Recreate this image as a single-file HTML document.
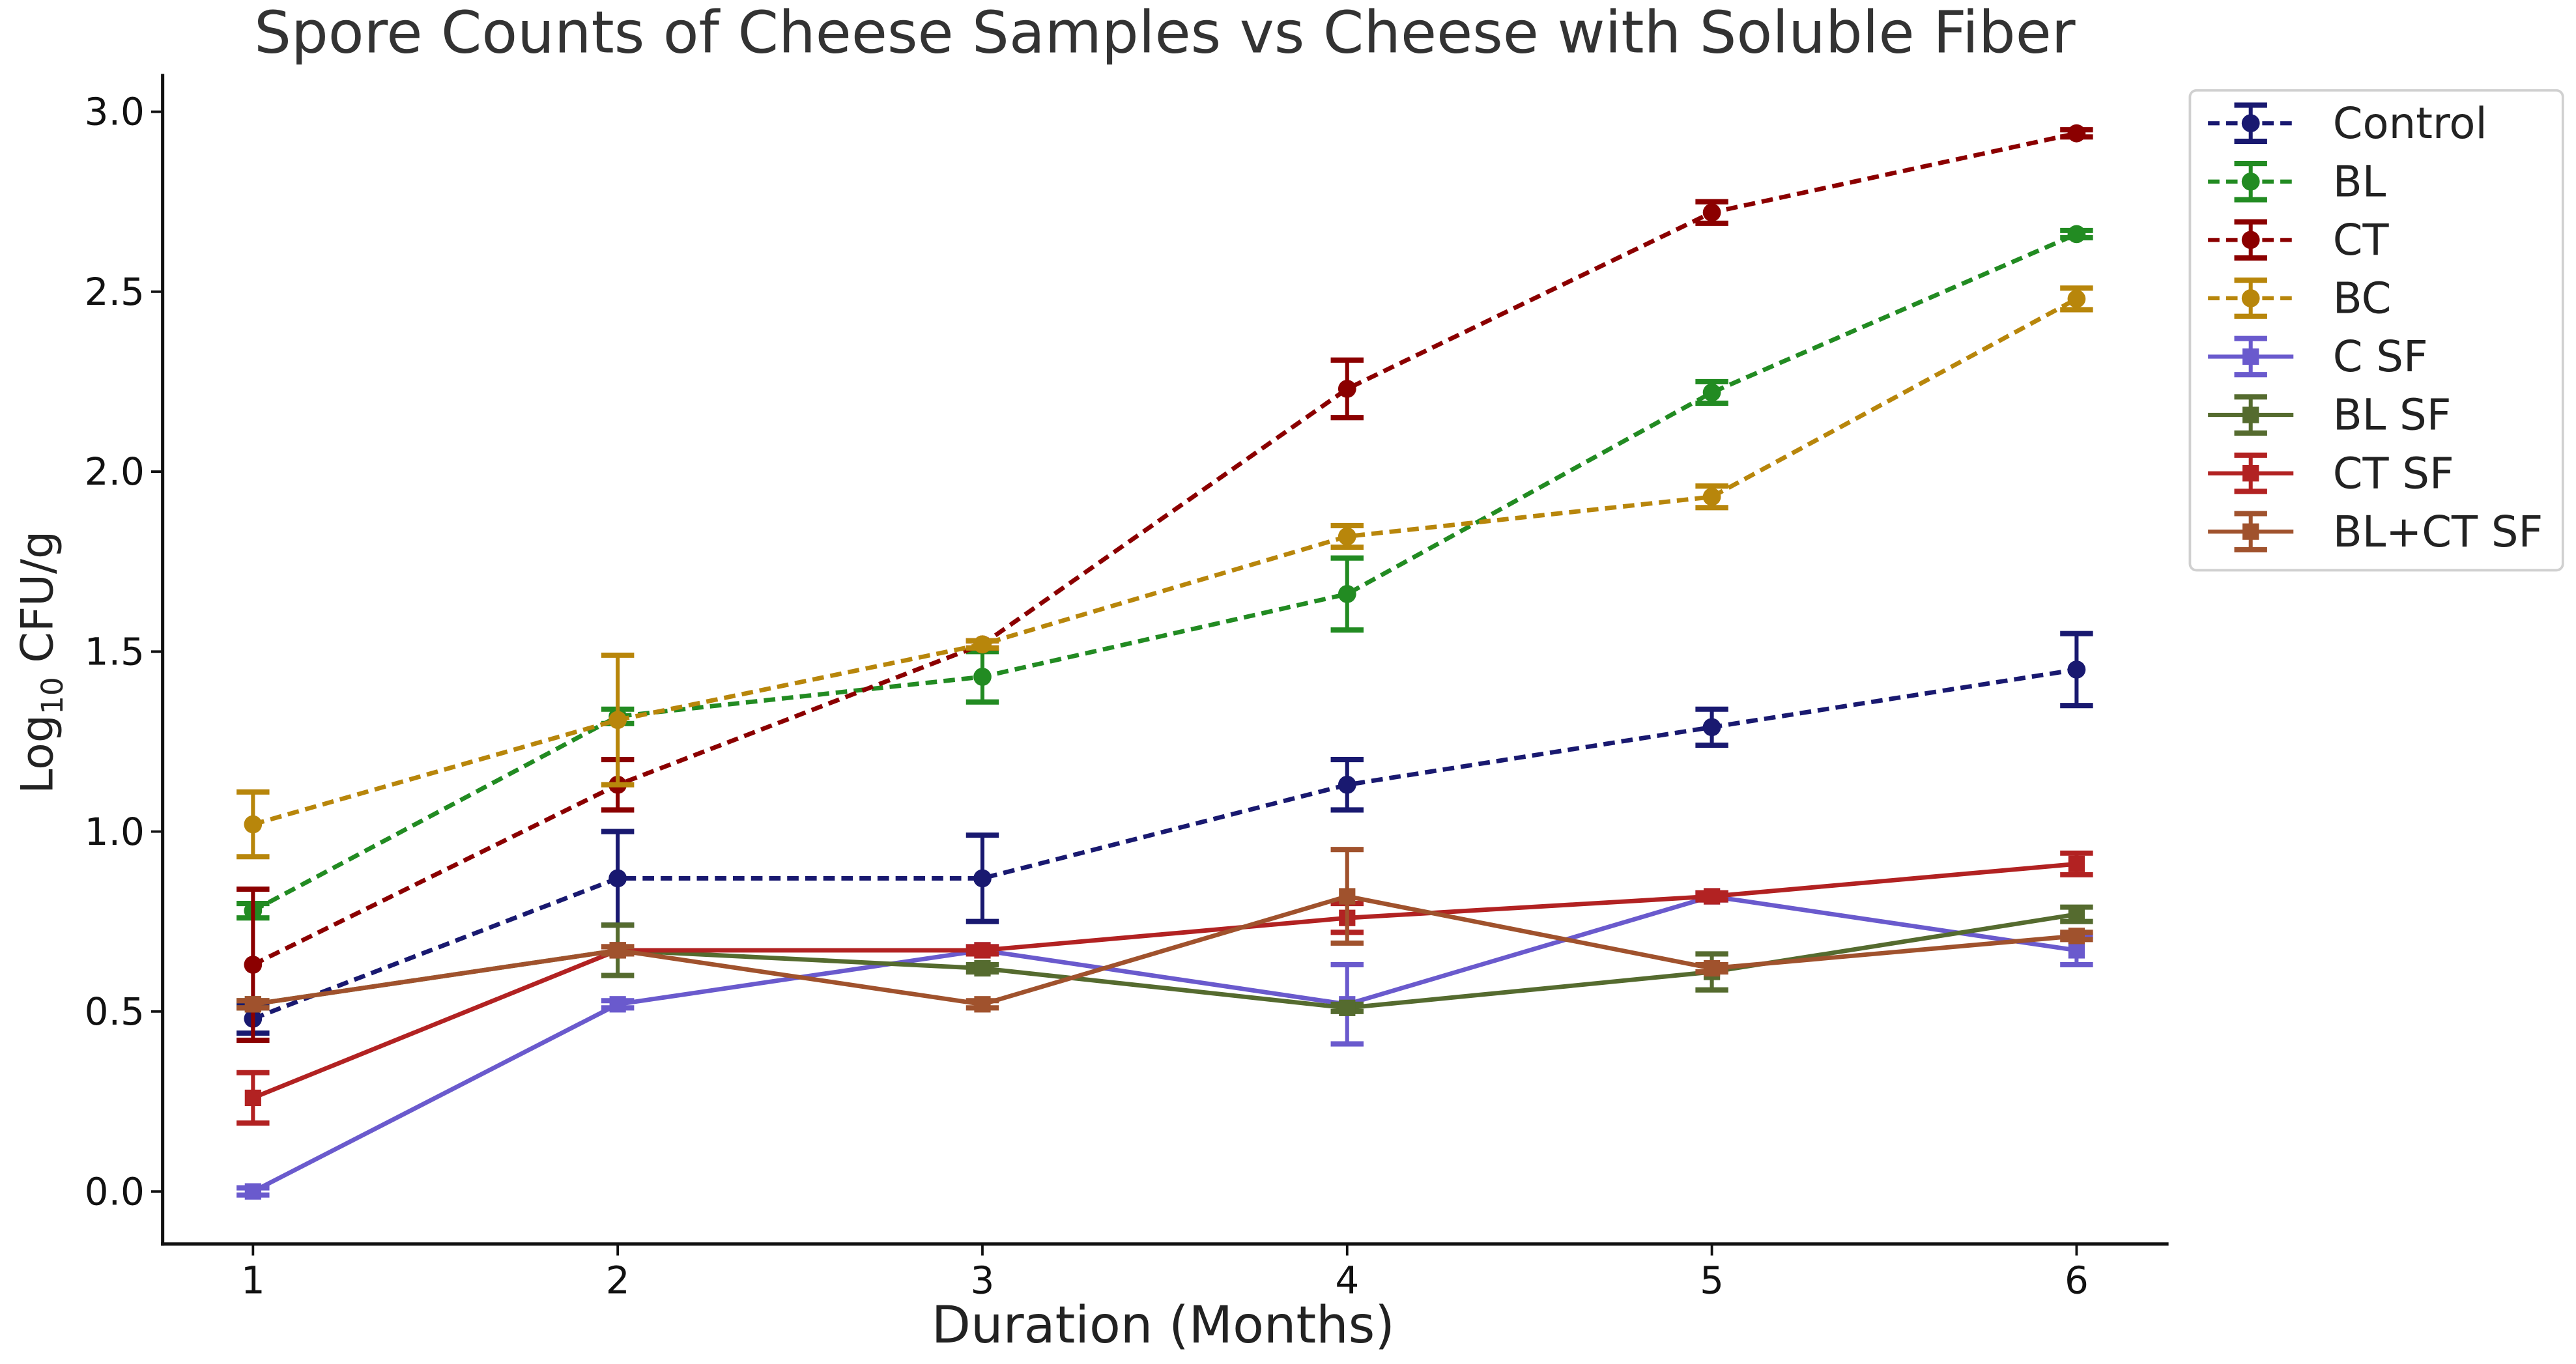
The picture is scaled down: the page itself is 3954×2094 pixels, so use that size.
<!DOCTYPE html>
<html><head><meta charset="utf-8"><style>
html,body{margin:0;padding:0;background:#fff;}
svg{display:block;font-family:"DejaVu Sans","Liberation Sans",sans-serif;}
</style></head><body>
<svg id="chart" width="3954" height="2094" viewBox="0 0 1568 830" preserveAspectRatio="none" xmlns="http://www.w3.org/2000/svg">
<rect width="1568" height="830" fill="#fff"/>
<text x="709" y="32" font-size="35.5" text-anchor="middle" fill="#333">Spore Counts of Cheese Samples vs Cheese with Soluble Fiber</text>
<g id="axes"></g>
<g id="series"></g>
<g id="legend"></g>
</svg>
<script>
const months = [1, 2, 3, 4, 5, 6];
const xTicks = [1, 2, 3, 4, 5, 6];
const yTicks = [0.0, 0.5, 1.0, 1.5, 2.0, 2.5, 3.0];
const seriesNames = ["Control", "BL", "CT", "BC", "C SF", "BL SF", "CT SF", "BL+CT SF"];
const controlVals = [0.48, 0.87, 0.87, 1.13, 1.29, 1.45];
const controlErr = [0.04, 0.13, 0.12, 0.07, 0.05, 0.10];
const blVals = [0.78, 1.32, 1.43, 1.66, 2.22, 2.66];
const blErr = [0.02, 0.02, 0.07, 0.10, 0.03, 0.01];
const ctVals = [0.63, 1.13, 1.52, 2.23, 2.72, 2.94];
const ctErr = [0.21, 0.07, 0.01, 0.08, 0.03, 0.01];
const bcVals = [1.02, 1.31, 1.52, 1.82, 1.93, 2.48];
const bcErr = [0.09, 0.18, 0.01, 0.03, 0.03, 0.03];
const csfVals = [0.0, 0.52, 0.67, 0.52, 0.82, 0.67];
const csfErr = [0.01, 0.01, 0.01, 0.11, 0.01, 0.04];
const blsfVals = [0.52, 0.67, 0.62, 0.51, 0.61, 0.77];
const blsfErr = [0.01, 0.07, 0.01, 0.01, 0.05, 0.02];
const ctsfVals = [0.26, 0.67, 0.67, 0.76, 0.82, 0.91];
const ctsfErr = [0.07, 0.01, 0.01, 0.04, 0.01, 0.03];
const blctsfVals = [0.52, 0.67, 0.52, 0.82, 0.62, 0.71];
const blctsfErr = [0.01, 0.01, 0.01, 0.13, 0.01, 0.01];

const allVals = [controlVals, blVals, ctVals, bcVals, csfVals, blsfVals, ctsfVals, blctsfVals];
const allErr = [controlErr, blErr, ctErr, bcErr, csfErr, blsfErr, ctsfErr, blctsfErr];
const colors = ["#191970", "#228B22", "#8B0000", "#B8860B", "#6A5ACD", "#556B2F", "#B22222", "#A0522D"];
const dashed = [true, true, true, true, false, false, false, false];

const NS = "http://www.w3.org/2000/svg";
function xS(v) { return 154 + (v - 1) * 222; }
function yS(v) { return 725 - v * 219; }
function mk(tag, attrs, parent) {
  const e = document.createElementNS(NS, tag);
  for (const k in attrs) e.setAttribute(k, attrs[k]);
  parent.appendChild(e);
  return e;
}
const axes = document.getElementById("axes");
const series = document.getElementById("series");
const legend = document.getElementById("legend");

let el = mk("line", {x1: 99, y1: 45, x2: 99, y2: 758, stroke: "#111", "stroke-width": 2}, axes);


el = mk("line", {x1: 98, y1: 757, x2: 1320, y2: 757, stroke: "#111", "stroke-width": 2}, axes);



xTicks.forEach(t => {
  mk("line", {x1: xS(t), y1: 757, x2: xS(t), y2: 764, stroke: "#111", "stroke-width": 1.5}, axes);
  const tx = mk("text", {x: xS(t), y: 787, "font-size": 23, "text-anchor": "middle", fill: "#111"}, axes);
  tx.textContent = String(t);
  
  
});
yTicks.forEach(t => {
  mk("line", {x1: 92, y1: yS(t), x2: 99, y2: yS(t), stroke: "#111", "stroke-width": 1.5}, axes);
  const tx = mk("text", {x: 88, y: yS(t) + 8, "font-size": 23, "text-anchor": "end", fill: "#111"}, axes);
  tx.textContent = t.toFixed(1);
  
  
});
el = mk("text", {x: 708, y: 817, "font-size": 31, "text-anchor": "middle", fill: "#222"}, axes);
el.textContent = "Duration (Months)";


el = mk("text", {x: 0, y: 0, "font-size": 27, "text-anchor": "middle", fill: "#222", transform: "translate(32,403) rotate(-90)"}, axes);
el.innerHTML = 'Log<tspan font-size="18" dy="6">10</tspan><tspan dy="-6"> CFU/g</tspan>';



function marker(g, cx, cy, i) {
  if (dashed[i]) return mk("circle", {cx: cx, cy: cy, r: 5.5, fill: colors[i]}, g);
  return mk("rect", {x: cx - 5, y: cy - 5, width: 10, height: 10, fill: colors[i]}, g);
}
function errbar(g, cx, cy, h, i) {
  mk("line", {x1: cx, y1: cy - h, x2: cx, y2: cy + h, stroke: colors[i], "stroke-width": 2.4}, g);
  mk("line", {x1: cx - 10, y1: cy - h, x2: cx + 10, y2: cy - h, stroke: colors[i], "stroke-width": 3.2}, g);
  mk("line", {x1: cx - 10, y1: cy + h, x2: cx + 10, y2: cy + h, stroke: colors[i], "stroke-width": 3.2}, g);
}

allVals.forEach((vals, i) => {
  const g = mk("g", {}, series);
  
  
  const pts = vals.map((v, j) => xS(months[j]) + "," + yS(v)).join(" ");
  const ln = mk("polyline", {points: pts, fill: "none", stroke: colors[i], "stroke-width": 2.7}, g);
  if (dashed[i]) ln.setAttribute("stroke-dasharray", "7,4");
  
  
  vals.forEach((v, j) => {
    const cx = xS(months[j]), cy = yS(v);
    errbar(g, cx, cy, allErr[i][j] * 219, i);
    const m = marker(g, cx, cy, i);
    
    
  });
});

const box = mk("rect", {x: 1333, y: 55, width: 227, height: 292, rx: 4, fill: "#fff", stroke: "#d0d0d0", "stroke-width": 1.5}, legend);


seriesNames.forEach((n, i) => {
  const y = 75 + i * 35.5;
  const g = mk("g", {}, legend);
  
  
  const ln = mk("line", {x1: 1344, y1: y, x2: 1396, y2: y, stroke: colors[i], "stroke-width": 2.5}, g);
  if (dashed[i]) ln.setAttribute("stroke-dasharray", "7,4");
  errbar(g, 1370, y, 11, i);
  marker(g, 1370, y, i);
  const t = mk("text", {x: 1420, y: y + 9, "font-size": 26, fill: "#222"}, g);
  t.textContent = n;
});
</script>
</body></html>
